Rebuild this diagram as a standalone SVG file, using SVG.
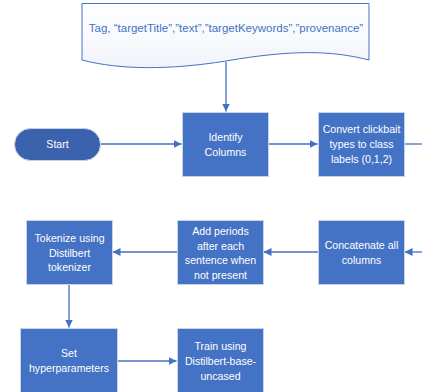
<svg xmlns="http://www.w3.org/2000/svg" width="422" height="392" viewBox="0 0 422 392">
<defs>
<linearGradient id="docg" x1="0" y1="0" x2="0" y2="1">
<stop offset="0" stop-color="#ffffff"/>
<stop offset="1" stop-color="#f1f4fa"/>
</linearGradient>
<marker id="ah" viewBox="0 0 10 10" refX="10" refY="5" markerWidth="8" markerHeight="8" markerUnits="userSpaceOnUse" orient="auto">
<path d="M0,0 L10,5 L0,10 z" fill="#4472c4"/>
</marker>
</defs>
<style>
.box{fill:#4472c4;stroke:#c9d3e6;stroke-width:1}
.t{font-family:"Liberation Sans",Arial,sans-serif;font-size:10.6px;fill:#ffffff;text-anchor:middle}
.c{fill:none;stroke:#4472c4;stroke-width:1.3;marker-end:url(#ah)}
.l{fill:none;stroke:#4472c4;stroke-width:1.3}
</style>
<g id="doc">
<path d="M82,3.5 L369,3.5 L369,60 C330,50 290,50 226,61 C170,70 120,70 82,60 Z" fill="url(#docg)" stroke="#4472c4" stroke-width="1"/>
<text x="226" y="32" font-family="Liberation Sans,Arial,sans-serif" font-size="11.5" fill="#4472c4" text-anchor="middle">Tag, “targetTitle”,”text”,”targetKeywords”,”provenance”</text>
</g>
<g id="connectors">
<path class="c" d="M226,62 L226,111.5"/>
<path class="c" d="M101,144 L181.5,144"/>
<path class="c" d="M269,144 L317.5,144"/>
<path class="l" d="M404,144 L422,144"/>
<path class="c" d="M422,252 L404.5,252"/>
<path class="c" d="M318,252 L263.5,252"/>
<path class="c" d="M177,252 L112.5,252"/>
<path class="c" d="M69,285 L69,327.5"/>
<path class="c" d="M117,361 L176.5,361"/>
</g>
<g id="start">
<rect x="14.5" y="128.5" width="86" height="32" rx="16" fill="#3a62ad" stroke="#c9d3e6"/>
<text class="t" x="57.5" y="148">Start</text>
</g>
<g id="identify">
<rect class="box" x="182.5" y="112.5" width="86" height="64"/>
<text class="t" x="225.5" y="141">Identify</text>
<text class="t" x="225.5" y="155.5">Columns</text>
</g>
<g id="convert">
<rect class="box" x="318.5" y="112.5" width="86" height="64"/>
<text class="t" x="361.5" y="133">Convert clickbait</text>
<text class="t" x="361.5" y="148">types to class</text>
<text class="t" x="361.5" y="163">labels (0,1,2)</text>
</g>
<g id="concat">
<rect class="box" x="318.5" y="220.5" width="86" height="64"/>
<text class="t" x="361.5" y="249">Concatenate all</text>
<text class="t" x="361.5" y="264">columns</text>
</g>
<g id="periods">
<rect class="box" x="177.5" y="220.5" width="86" height="64"/>
<text class="t" x="220.5" y="235">Add periods</text>
<text class="t" x="220.5" y="249.5">after each</text>
<text class="t" x="220.5" y="264">sentence when</text>
<text class="t" x="220.5" y="278.5">not present</text>
</g>
<g id="tokenize">
<rect class="box" x="26.5" y="220.5" width="86" height="64"/>
<text class="t" x="69.5" y="242">Tokenize using</text>
<text class="t" x="69.5" y="256.5">Distilbert</text>
<text class="t" x="69.5" y="271">tokenizer</text>
</g>
<g id="hyper">
<rect class="box" x="20.5" y="328.5" width="97" height="70"/>
<text class="t" x="69" y="357">Set</text>
<text class="t" x="69" y="372">hyperparameters</text>
</g>
<g id="train">
<rect class="box" x="177.5" y="328.5" width="86" height="70"/>
<text class="t" x="220.5" y="350">Train using</text>
<text class="t" x="220.5" y="365">Distilbert-base-</text>
<text class="t" x="220.5" y="379.5">uncased</text>
</g>
</svg>
